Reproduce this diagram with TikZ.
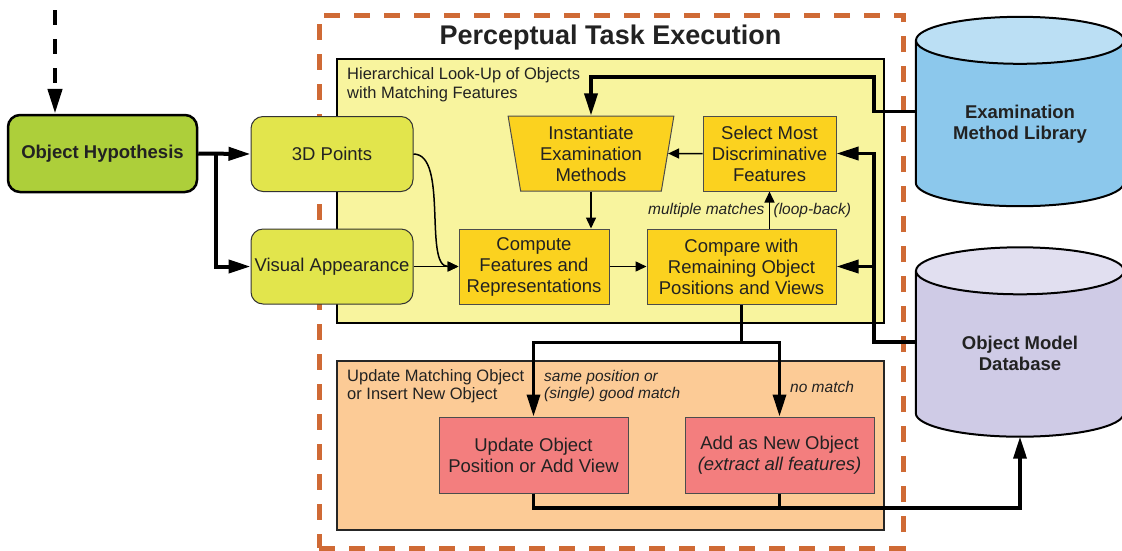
\documentclass[tikz,border=0pt]{standalone}
\usepackage{fontspec}
\setmainfont{Liberation Sans}
\usetikzlibrary{shapes.geometric,arrows.meta,calc,backgrounds}

\definecolor{hypgreen}{HTML}{ADCF3A}
\definecolor{cuegreen}{HTML}{E2E54C}
\definecolor{lookupyellow}{HTML}{F8F49E}
\definecolor{stepgold}{HTML}{FBD21F}
\definecolor{updateorange}{HTML}{FCCB96}
\definecolor{updatered}{HTML}{F37E7E}
\definecolor{frameorange}{HTML}{CF6A35}
\definecolor{libblue}{HTML}{8CC8EC}
\definecolor{libbluetop}{HTML}{BBDFF4}
\definecolor{dblilac}{HTML}{CFCBE6}
\definecolor{dblilactop}{HTML}{E1DFF0}
\definecolor{inkgray}{HTML}{222222}

\def\boxfont{\fontsize{18.5}{21}\selectfont}
\def\panelfont{\fontsize{16.5}{19.5}\selectfont}
\def\notefont{\fontsize{15.5}{17}\selectfont\itshape}
\def\titlefont{\fontsize{27}{30}\selectfont\bfseries}
\def\lidrx{104pt}
\def\lidry{23.5pt}

\begin{document}
\begin{tikzpicture}[x=1pt, y=1pt,
            hypothesis/.style={%
                rectangle, rounded corners=12pt, draw=black, line width=2.5pt,%
                fill=hypgreen, minimum width=189pt, minimum height=77pt,%
                text=inkgray, font=\boxfont\bfseries%
            },
            cue/.style={%
                rectangle, rounded corners=12pt, draw=black!80, line width=1pt,%
                fill=cuegreen, minimum width=162pt, minimum height=75pt,%
                inner sep=1pt, text=inkgray, font=\boxfont%
            },
            panel/.style={%
                rectangle, draw=black, line width=2pt%
            },
            process/.style={%
                rectangle, draw=black!70, line width=1pt, fill=stepgold,%
                minimum height=75pt, inner sep=2pt, align=center,%
                text=inkgray, font=\boxfont%
            },
            method/.style={%
                trapezium, trapezium left angle=99, trapezium right angle=99,%
                trapezium stretches=true, draw=black!70, line width=1pt,%
                fill=stepgold, minimum width=166pt, minimum height=75pt,%
                inner sep=2pt, align=center, text=inkgray, font=\boxfont%
            },
            outcome/.style={%
                rectangle, draw=black!70, line width=1pt, fill=updatered,%
                minimum width=189pt, minimum height=76pt, align=center,%
                text=inkgray, font=\boxfont%
            },
            store/.style={%
                rectangle, draw=none, minimum width=208pt, minimum height=142pt,%
                text height=56.5pt, text depth=0pt,%
                align=center, text=inkgray, font=\boxfont\bfseries%
            },
            lid/.style={line width=2pt, draw=black},
            note/.style={text=inkgray, font=\notefont},
            heading/.style={%
                text=inkgray, font=\panelfont, align=left,%
                anchor=north west, inner sep=0pt%
            },
            arrow/.style={line width=3.5pt, -{Triangle[length=22pt,width=13pt]}},
            bus/.style={line width=3.5pt},
            thinarrow/.style={line width=1.5pt, -{Triangle[length=11pt,width=10pt]}}
        ]
        \useasboundingbox (0,0) rectangle (1122,-550);

        % Frame and panels
        \node (task) [rectangle, draw=frameorange, line width=5pt,
            dash pattern=on 16pt off 14pt,
            minimum width=584pt, minimum height=533pt] at (611,-281.5) {};
        \node (title) [text=inkgray, font=\titlefont] at (610.5,-38) {%
            Perceptual Task Execution
        };
        \node (lookup) [panel, fill=lookupyellow,
            minimum width=547pt, minimum height=264pt] at (610.5,-191) {};
        \node (lookuplbl) [heading] at (347,-67) {%
            Hierarchical Look-Up of Objects\\with Matching Features
        };
        \node (update) [panel, draw=black!85, fill=updateorange,
            minimum width=547pt, minimum height=169pt] at (610.5,-445.5) {};
        \node (updatelbl) [heading, font=\fontsize{16.5}{17.7}\selectfont] at (347,-369.5) {%
            Update Matching Object\\or Insert New Object
        };

        % Define nodes
        \node (hyp) [hypothesis] at (102.5,-153.5) {Object Hypothesis};
        \node (points) [cue] at (332,-154) {3D Points};
        \node (appear) [cue] at (332,-266.5) {Visual Appearance};
        \node (instantiate) [method] at (591,-153.5) {%
            Instantiate\\Examination\\Methods
        };
        \node (select) [process, minimum width=133pt] at (769.5,-153.5) {%
            Select Most\\Discriminative\\Features
        };
        \node (compute) [process, minimum width=150pt] at (534,-266.5) {%
            Compute\\Features and\\Representations
        };
        \node (compare) [process, minimum width=189pt] at (741.5,-266.5) {%
            Compare with\\Remaining Object\\Positions and Views
        };
        \node (updobj) [outcome] at (533.5,-455) {%
            Update Object\\Position or Add View
        };
        \node (addobj) [outcome] at (779.5,-455) {%
            Add as New Object\\\textit{(extract all features)}
        };
        \node (library) [store] at (1020,-111.5) {%
            Examination\\Method Library
        };
        \node (database) [store] at (1020,-342) {%
            Object Model\\Database
        };

        % Cylinders behind the store nodes
        \begin{scope}[on background layer]
            \foreach \store/\body/\top in {library/libblue/libbluetop,
                    database/dblilac/dblilactop} {
                \draw [lid, fill=\body] (\store.north west) -- (\store.south west)
                    arc[start angle=180, end angle=360,
                        x radius=\lidrx, y radius=\lidry]
                    -- (\store.north east);
                \draw [lid, fill=\top] (\store.north)
                    ellipse [x radius=\lidrx, y radius=\lidry];
            }
        \end{scope}

        \node (samenote) [note, align=left, anchor=north west, inner sep=0pt]
            at (544,-370) {same position or\\(single) good match};
        \node (nomatch) [note, anchor=base west, inner sep=0pt]
            at (790,-392.7) {no match};

        % Connectors
        \coordinate (hypin) at (55,-10);
        \coordinate (fork) at (216,-153.5);
        \coordinate (libturn) at (874,-77);
        \coordinate (dbbus) at (874,-153.5);
        \coordinate (split) at ($(compare.south)+(0,-38)$);
        \coordinate (merge) at (1020,-508);

        \draw [line width=4.5pt, dash pattern=on 15pt off 14pt,
            -{Triangle[length=25pt,width=14pt]}] (hypin) -- (hypin |- hyp.north);
        \draw [arrow, line width=4pt] (hyp.east) -- (points.west);
        \draw [arrow, line width=4pt] (fork) |- (appear.west);

        \draw [thinarrow] (points.east) .. controls +(35,0) and +(-35,0) .. (compute.west);
        \draw [thinarrow] (appear.east) -- (compute.west);
        \draw [thinarrow] (compute) -- (compare);
        \draw [thinarrow] (instantiate.south) -- (instantiate.south |- compute.north);
        \draw [thinarrow] (select) -- (instantiate);
        \draw [thinarrow] (select.south |- compare.north) --
            node[note, left, xshift=-1pt] {multiple matches}
            node[note, right] {(loop-back)} (select.south);

        \draw [arrow] (library.west) -| (libturn) -| (instantiate.north);
        \draw [arrow] (database.west) -| (dbbus) -- (select.east);
        \draw [arrow] (dbbus |- compare.east) -- (compare.east);

        \draw [bus] (compare.south) -- (split);
        \draw [arrow] (split) -| (updobj.north);
        \draw [arrow] (split) -| (addobj.north);

        \draw [arrow] (updobj.south) |- (merge) -- ([yshift=-\lidry]database.south);
        \draw [bus] (addobj.south) -- (addobj.south |- merge);

\end{tikzpicture}
\end{document}
